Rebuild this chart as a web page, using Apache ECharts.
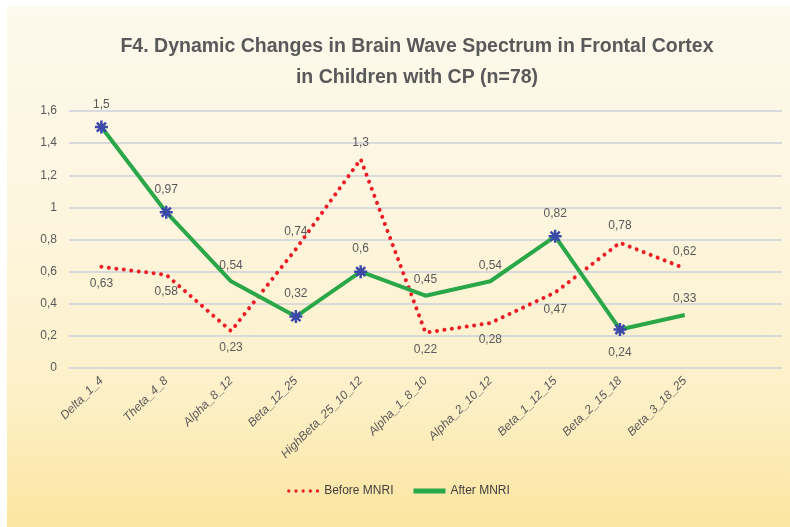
<!DOCTYPE html>
<html>
<head>
<meta charset="utf-8">
<script src="https://cdn.jsdelivr.net/npm/echarts@6/dist/echarts.min.js"></script>
<style>
  html, body { margin: 0; padding: 0; background: #fff; }
  #main {
    position: absolute; left: 7px; top: 7px; width: 783px; height: 520px;
    background: linear-gradient(to bottom, #fdf9ec 0%, #fdf5dc 45%, #fdf0c8 75%, #fce5a0 100%);
  }
</style>
</head>
<body>
<div id="main"></div>
<script>
// категории (последняя пустая, как в исходном Excel)
const categories = ['Delta_1_4', 'Theta_4_8', 'Alpha_8_12', 'Beta_12_25', 'HighBeta_25_10_12',
  'Alpha_1_8_10', 'Alpha_2_10_12', 'Beta_1_12_15', 'Beta_2_15_18', 'Beta_3_18_25', ''];
const beforeMNRI = [0.63, 0.58, 0.23, 0.74, 1.3, 0.22, 0.28, 0.47, 0.78, 0.62];
const afterMNRI = [1.5, 0.97, 0.54, 0.32, 0.6, 0.45, 0.54, 0.82, 0.24, 0.33];
// where the blue star markers are shown on the green line
const afterStars = [true, true, false, true, true, false, false, true, true, false];

const beforeLabelPos = ['bottom', 'bottom', 'bottom', 'top', 'top', 'bottom', 'bottom', 'bottom', 'top', 'top'];
const afterLabelPos = ['top', 'top', 'top', 'top', 'top', 'top', 'top', 'top', 'bottom', 'top'];

const comma = v => String(v).replace('.', ',');
const star = 'path://M0,-10L0,10M-10,0L10,0M-7,-7L7,7M-7,7L7,-7';
const hidden = { color: 'transparent', borderColor: 'transparent' };
const dots = 'path://M3,2a1.6,1.6 0 1,0 0.01,0zM10,2a1.6,1.6 0 1,0 0.01,0zM17,2a1.6,1.6 0 1,0 0.01,0zM24,2a1.6,1.6 0 1,0 0.01,0zM31,2a1.6,1.6 0 1,0 0.01,0z';

let myChart = echarts.init(document.getElementById('main'));
let option = {
  textStyle: { fontFamily: 'Liberation Sans, sans-serif' },
  title: {
    text: 'F4. Dynamic Changes in Brain Wave Spectrum in Frontal Cortex\nin Children with CP (n=78)',
    left: 405, top: 19, textAlign: 'center',
    textStyle: { fontSize: 19.5, fontWeight: 'bold', color: '#595959', lineHeight: 31 }
  },
  legend: {
    bottom: 25, left: 'center', itemGap: 20, itemWidth: 32, itemHeight: 5,
    textStyle: { color: '#404040', fontSize: 12 },
    data: [
      { name: 'Before MNRI', icon: dots, itemStyle: { color: '#ee1c25', borderWidth: 0 } },
      { name: 'After MNRI', icon: 'rect', itemStyle: { color: '#2aa748', borderWidth: 0 } }
    ]
  },
  grid: { left: 62, right: 8, top: 104, bottom: 159 },
  xAxis: {
    type: 'category', data: categories, boundaryGap: true,
    axisLine: { show: false }, axisTick: { show: false },
    axisLabel: { rotate: 45, color: '#595959', fontSize: 12, fontStyle: 'italic', interval: 0, margin: 11 }
  },
  yAxis: {
    type: 'value', min: 0, max: 1.6, interval: 0.2,
    axisLine: { show: false }, axisTick: { show: false },
    axisLabel: { color: '#595959', fontSize: 12, margin: 12, formatter: v => comma(+v.toFixed(1)) },
    splitLine: { lineStyle: { color: '#cdd0dc', width: 1.5 } }
  },
  series: [
    {
      name: 'Before MNRI', type: 'line', z: 2,
      data: beforeMNRI.map((v, i) => ({ value: v, label: { position: beforeLabelPos[i] } })),
      symbol: 'circle', symbolSize: 1, showAllSymbol: true,
      lineStyle: { color: '#ee1c25', width: 4, type: [0.01, 7.5], cap: 'round' },
      itemStyle: hidden,
      label: { show: true, color: '#595959', fontSize: 12, distance: 10, formatter: p => comma(p.value) }
    },
    {
      name: 'After MNRI', type: 'line', z: 3,
      data: afterMNRI.map((v, i) => ({
        value: v,
        symbol: afterStars[i] ? star : 'circle',
        symbolSize: afterStars[i] ? 13 : 1,
        itemStyle: afterStars[i] ? { color: '#3b49a8', borderColor: '#3b49a8', borderWidth: 2.5 } : hidden,
        label: { position: afterLabelPos[i] }
      })),
      showAllSymbol: true,
      lineStyle: { color: '#2aa748', width: 4 },
      itemStyle: { color: '#2aa748' },
      label: { show: true, color: '#595959', fontSize: 12, distance: 9, formatter: p => comma(p.value) }
    }
  ]
};
myChart.setOption(option);
</script>
</body>
</html>
